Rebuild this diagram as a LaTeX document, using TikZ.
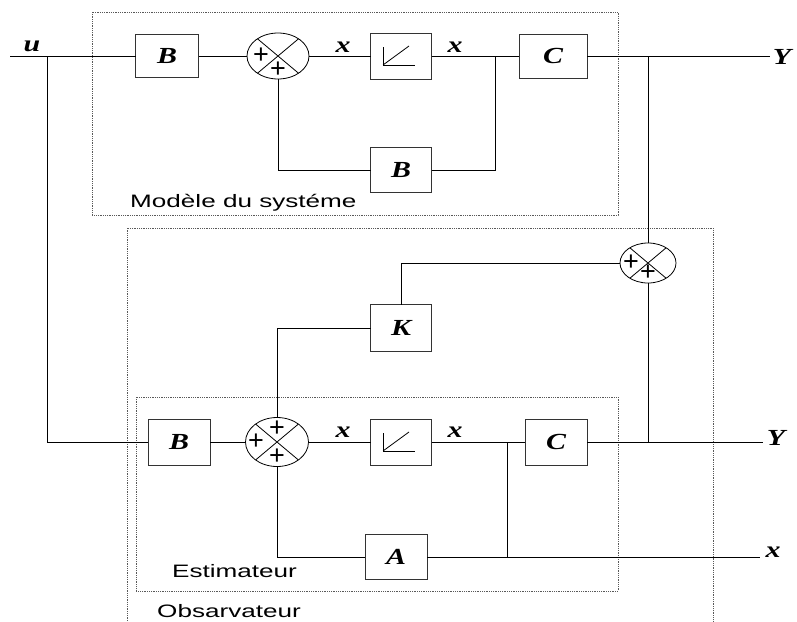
\documentclass[tikz,border=0pt]{standalone}
\usepackage{fontspec}
\setmainfont{Liberation Serif}
\newfontfamily\sansfont{Liberation Sans}
\usetikzlibrary{shapes.geometric}
% letters are set horizontally stretched
\newcommand{\wide}[2][1.4]{\scalebox{#1}[1]{#2}}
\newcommand{\sym}[1]{\wide[1.3]{\fontsize{23}{26}\selectfont\bfseries\itshape #1}}
\newcommand{\ttl}[1]{\wide[1.45]{#1}}
% ramp symbol of an integrator block
\newcommand{\ramp}[1]{%
  \draw[wire] ([shift={(-18,-9)}]#1.center) -- ([shift={(-18,9)}]#1.center)
              -- ([shift={(14,9)}]#1.center);
  \draw[wire] ([shift={(-18,9)}]#1.center) -- ([shift={(8,-10)}]#1.center);}
% cross inside a summing junction
\newcommand{\cross}[1]{%
  \draw[wire] (#1.140) -- (#1.-40) (#1.40) -- (#1.-140);}
\begin{document}
\begin{tikzpicture}[x=1pt,y=-1pt,
  wire/.style={line width=0.8pt, black},
  blk/.style={draw=black!80, line width=0.8pt, inner sep=0pt, outer sep=0pt,
              minimum width=62pt, minimum height=45pt},
  sumj/.style={draw=black, ellipse, line width=0.8pt, inner sep=0pt, outer sep=0pt},
  frame/.style={densely dotted, line width=0.8pt, black!65},
  plus/.style={inner sep=0pt, font=\sansfont\fontsize{27}{27}\selectfont},
  lbl/.style={inner sep=0pt},
  boxtitle/.style={inner sep=0pt, anchor=base west, font=\sansfont\fontsize{18}{20}\selectfont},
]
\useasboundingbox (0,0) rectangle (797,621);

% frames
\draw[frame] (92,12) rectangle (618,215);
\draw[frame] (127,621) -- (127,228) -- (713,228) -- (713,621);
\draw[frame] (136,397) rectangle (618,591);

\node[boxtitle] (tm) at (130,207) {\ttl{Modèle du systéme}};
\node[boxtitle] (te) at (172,577) {\ttl{Estimateur}};
\node[boxtitle] (to) at (157,617) {\ttl{Obsarvateur}};

% system model
\node[blk, minimum width=63pt, minimum height=43pt] (b1) at (167,56) {\sym{B}};
\node[sumj, minimum width=62pt, minimum height=46pt] (s1) at (278,56) {};
\node[blk, minimum width=61pt, minimum height=46pt] (i1) at (401,56) {};
\node[blk, minimum width=68pt, minimum height=44pt] (c1) at (553,56) {\sym{C}};
\node[blk, minimum width=61pt, minimum height=45pt] (b2) at (401,170) {\sym{B}};
\cross{s1}
\ramp{i1}
\node[plus] (p11) at ([shift={(-17,0)}]s1.center) {+};
\node[plus] (p12) at ([shift={(0,14)}]s1.center) {+};

\coordinate (uin) at (10,56);
\coordinate (ub) at (47,56);
\coordinate (br1) at (495,56);
\coordinate (yt) at (648,56);
\coordinate (yout1) at (770,56);

\node[lbl] (lu) at (32,46) {\sym{u}};
\node[lbl] (lx1) at (343,47) {\sym{x}};
\node[lbl] (lx2) at (455,47) {\sym{x}};
\node[lbl] (lY1) at (782,57) {\sym{Y}};

\draw[wire] (uin) -- (b1.west);
\draw[wire] (b1.east) -- (s1.west);
\draw[wire] (s1.east) -- (i1.west);
\draw[wire] (i1.east) -- (c1.west);
\draw[wire] (c1.east) -- (yout1);
\draw[wire] (br1) |- (b2.east);
\draw[wire] (b2.west) -| (s1.south);

% observer
\node[sumj, minimum width=56pt, minimum height=40pt] (s3) at (648,263) {};
\cross{s3}
\node[plus] (p31) at ([shift={(-17,0)}]s3.center) {+};
\node[plus] (p32) at ([shift={(0,10)}]s3.center) {+};
\node[blk, minimum width=61pt, minimum height=47pt] (k) at (401,328) {\sym{K}};

\draw[wire] (yt) -- (s3.north);
\draw[wire] (s3.west) -| (k.north);

% estimator
\node[blk, minimum width=62pt, minimum height=46pt] (b3) at (179,442) {\sym{B}};
\node[sumj, minimum width=63pt, minimum height=49pt] (s2) at (277,442) {};
\node[blk, minimum width=61pt, minimum height=46pt] (i2) at (401,442) {};
\node[blk, minimum width=62pt, minimum height=46pt] (c2) at (556,442) {\sym{C}};
\node[blk, minimum width=62pt, minimum height=45pt] (a) at (396,557) {\sym{A}};
\cross{s2}
\ramp{i2}
\node[plus] (p21) at ([shift={(0,-13)}]s2.center) {+};
\node[plus] (p22) at ([shift={(-21,0)}]s2.center) {+};
\node[plus] (p23) at ([shift={(0,15)}]s2.center) {+};

\coordinate (br2) at (507,442);
\coordinate (br3) at (507,557);
\coordinate (yb) at (648,442);
\coordinate (yout2) at (763,442);
\coordinate (xout) at (760,557);

\node[lbl] (lx3) at (343,432) {\sym{x}};
\node[lbl] (lx4) at (455,432) {\sym{x}};
\node[lbl] (lY2) at (776,438) {\sym{Y}};
\node[lbl] (lx5) at (773,552) {\sym{x}};

\draw[wire] (ub) |- (b3.west);
\draw[wire] (k.west) -| (s2.north);
\draw[wire] (b3.east) -- (s2.west);
\draw[wire] (s2.east) -- (i2.west);
\draw[wire] (i2.east) -- (c2.west);
\draw[wire] (c2.east) -- (yout2);
\draw[wire] (s3.south) -- (yb);
\draw[wire] (br2) -- (br3);
\draw[wire] (a.east) -- (xout);
\draw[wire] (a.west) -| (s2.south);
\end{tikzpicture}
\end{document}
